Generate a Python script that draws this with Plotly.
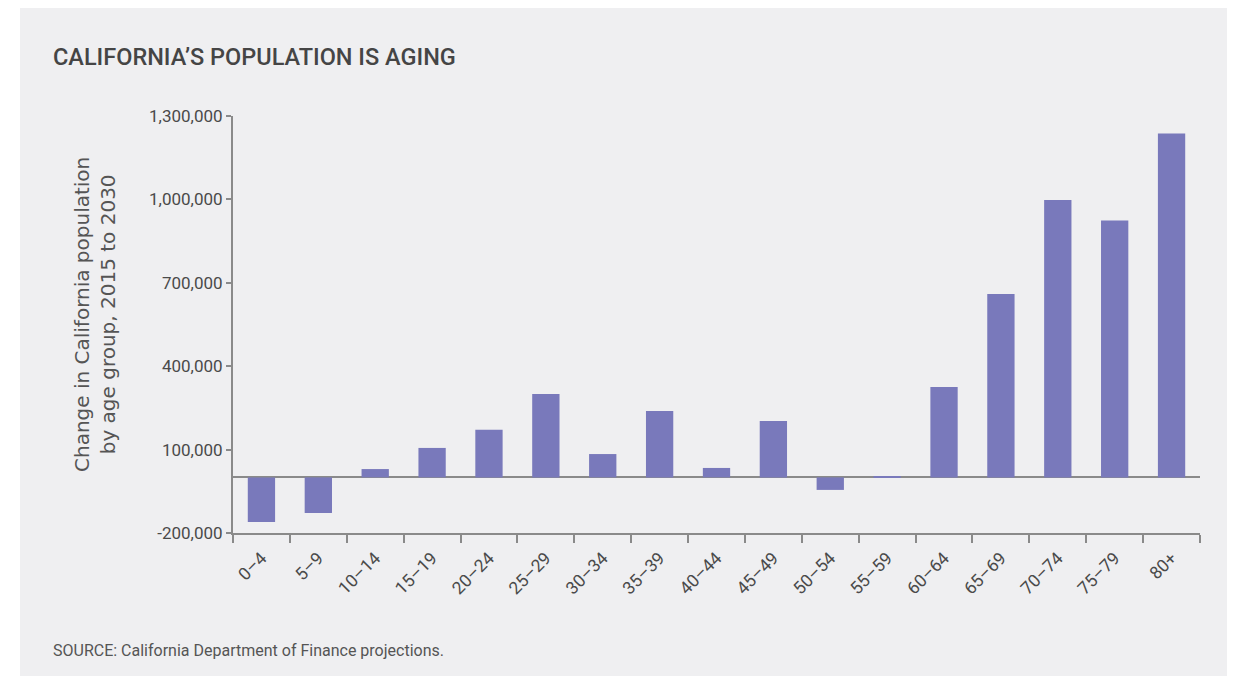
import plotly.graph_objects as go

age_groups = ["0–4", "5–9", "10–14", "15–19", "20–24", "25–29", "30–34", "35–39",
              "40–44", "45–49", "50–54", "55–59", "60–64", "65–69", "70–74", "75–79", "80+"]
pop_change = [-160000, -128000, 30000, 106000, 171000, 300000, 84000, 239000,
              34000, 203000, -45000, 5000, 325000, 660000, 998000, 924000, 1237000]
y_ticks = [-200000, 100000, 400000, 700000, 1000000, 1300000]
y_tick_labels = ["-200,000", "100,000", "400,000", "700,000", "1,000,000", "1,300,000"]

OFF = 8  # default page body margin
W, H = 1235 - 2 * OFF, 685 - 2 * OFF
L, T = 233 - OFF, 116 - OFF
R = W - (1200 - OFF)
B = H - (533 - OFF)
pw, ph = W - L - R, H - T - B

def px_x(x):
    return (x - OFF - L) / pw

def px_y(y):
    return (H - B - (y - OFF)) / ph

panel = "#efeff1"
text_col = "#4a4a4a"
axis_col = "#8a8a8a"

fig = go.Figure(go.Bar(
    x=age_groups, y=pop_change,
    marker=dict(color="#7979bb", line=dict(width=0)),
    width=0.48,
))

fig.update_layout(
    width=W, height=H,
    margin=dict(l=L, r=R, t=T, b=B),
    paper_bgcolor="white",
    plot_bgcolor="rgba(0,0,0,0)",
    showlegend=False,
    font=dict(family="Roboto", size=16, color=text_col),
    shapes=[dict(type="rect", xref="paper", yref="paper",
                 x0=px_x(20), x1=px_x(1240), y0=px_y(676), y1=px_y(8),
                 fillcolor=panel, line=dict(width=0), layer="below")],
    annotations=[
        dict(text="CALIFORNIA’S POPULATION IS AGING", xref="paper", yref="paper",
             x=px_x(51), y=px_y(57), xanchor="left", yanchor="middle", showarrow=False,
             font=dict(family="Roboto", size=23.5, color="#454545", weight=500)),
        dict(text="SOURCE: California Department of Finance projections.", xref="paper", yref="paper",
             x=px_x(51), y=px_y(650), xanchor="left", yanchor="middle", showarrow=False,
             font=dict(family="Roboto", size=16, color="#555555")),
        dict(text="Change in California population<br>by age group, 2015 to 2030", xref="paper", yref="paper",
             x=px_x(95), y=px_y(315), xanchor="center", yanchor="middle", showarrow=False,
             textangle=-90, align="center",
             font=dict(family="DejaVu Sans", size=20, color="#555555")),
    ],
)

fig.update_xaxes(
    type="category", tickson="boundaries", ticks="outside", ticklen=8, tickcolor=axis_col,
    tickwidth=1.5, showline=True, linecolor=axis_col, linewidth=2, showgrid=False,
    tickangle=-45, tickfont=dict(family="Roboto", size=17.5, color=text_col),
    ticklabelstandoff=6,
    range=[-0.5, 16.5],
)
fig.update_yaxes(
    range=[-200000, 1300000], tickvals=y_ticks, ticktext=y_tick_labels,
    ticks="outside", ticklen=5, tickcolor=axis_col, tickwidth=1.5,
    showline=True, linecolor=axis_col, linewidth=2, showgrid=False,
    zeroline=True, zerolinecolor=axis_col, zerolinewidth=2,
    tickfont=dict(family="Roboto", size=17, color=text_col),
)

fig.write_html("out.html")
